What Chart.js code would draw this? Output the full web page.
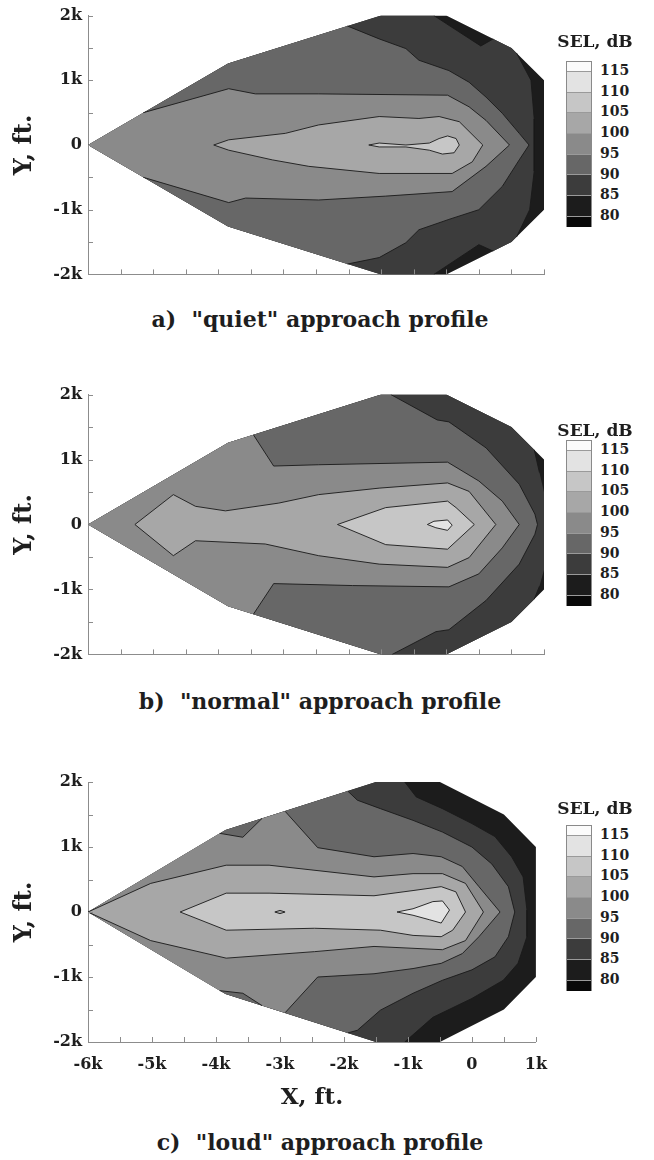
<!DOCTYPE html>
<html>
<head>
<meta charset="utf-8">
<script src="https://cdn.jsdelivr.net/npm/chart.js@4.4.1/dist/chart.umd.min.js"></script>
<style>
  body { margin:0; background:#fff; width:654px; height:1160px; position:relative; overflow:hidden;
         font-family:'DejaVu Serif', serif; font-weight:bold; color:#1e1e1e; }
  canvas { position:absolute; left:0; }
  .caption { position:absolute; left:0; width:640px; text-align:center; font-size:22px; line-height:26px; }
  .sel { position:absolute; left:545px; width:100px; text-align:center; font-size:17px; line-height:20px; }
  .bar { position:absolute; left:566px; width:26px; height:166px; border:1px solid #8a8a8a; box-sizing:border-box; }
  .bar div { box-sizing:border-box; border-top:1px solid #9a9a9a; }
  .bar div:first-child { border-top:none; }
  .lvl { position:absolute; left:600px; font-size:14px; line-height:16px; }
</style>
</head>
<body>
<canvas id="quiet" width="560" height="290" style="top:0px"></canvas>
<canvas id="normal" width="560" height="291" style="top:379px"></canvas>
<canvas id="loud" width="560" height="346" style="top:766px"></canvas>

<div class="caption" style="top:306px">a)&nbsp; "quiet" approach profile</div>
<div class="caption" style="top:688px">b)&nbsp; "normal" approach profile</div>
<div class="caption" style="top:1129px">c)&nbsp; "loud" approach profile</div>

<script>
/* ── DATA (x, y in thousands of ft) ── */
const levels = [80, 85, 90, 95, 100, 105, 110, 115];

// measured area, same for all three profiles
const domain = [[-6,0],[-3.85,1.26],[-1.5,2],[-0.5,2],[0.5,1.5],[1,1],[1,-1],[0.5,-1.5],[-0.5,-2],[-1.5,-2],[-3.85,-1.26]];

// a) quiet: regions at or above each level
const quiet85  = [[-6,0],[-3.85,1.26],[-1.5,2],[-0.69,2],[0.03,1.53],[0.22,1.64],[0.5,1.5],[0.58,1.42],[0.8,1.0],[0.85,0.4],[0.85,-0.4],[0.78,-1.0],[0.58,-1.42],[0.5,-1.5],[0.22,-1.64],[0,-1.54],[-0.69,-2],[-1.5,-2],[-3.85,-1.26]];
const quiet90  = [[-2.02,1.84],[-1.53,1.64],[-1.12,1.49],[-0.92,1.31],[-0.46,1.15],[-0.15,0.97],[0.11,0.74],[0.36,0.49],[0.62,0.18],[0.77,0],[0.62,-0.23],[0.36,-0.64],[0,-1.0],[-0.46,-1.15],[-0.92,-1.31],[-1.12,-1.51],[-1.53,-1.74],[-2.02,-1.84],[-3.85,-1.26],[-6,0],[-3.85,1.26]];
const quiet95  = [[-6,0],[-5.15,0.5],[-3.84,0.87],[-3.43,0.79],[-2.46,0.79],[-0.48,0.77],[-0.15,0.59],[0.11,0.38],[0.47,0],[0.11,-0.33],[-0.41,-0.72],[-1.43,-0.79],[-2.46,-0.85],[-3.58,-0.82],[-3.84,-0.89],[-5.15,-0.5]];
const quiet100 = [[-4.07,0],[-3.84,0.08],[-2.97,0.18],[-2.46,0.31],[-1.53,0.44],[-0.92,0.41],[-0.61,0.44],[-0.3,0.36],[0.06,0],[-0.1,-0.26],[-0.41,-0.44],[-1.53,-0.44],[-2.61,-0.33],[-3.17,-0.23],[-3.84,-0.08]];
const quiet105 = [[-1.69,0],[-1.53,0.03],[-1.12,0],[-0.76,0.03],[-0.61,0.1],[-0.48,0.14],[-0.35,0.1],[-0.3,0],[-0.38,-0.12],[-0.56,-0.14],[-0.76,-0.08],[-1.12,-0.03],[-1.53,-0.03]];

// b) normal
const normal85  = [[-6,0],[-3.85,1.26],[-1.5,2],[-0.5,2],[0.5,1.5],[0.85,1.15],[0.93,0.8],[1,0.5],[1,-0.7],[0.93,-0.95],[0.85,-1.15],[0.5,-1.5],[-0.5,-2],[-1.5,-2],[-3.85,-1.26]];
const normal90  = [[-1.35,2],[-0.64,1.61],[-0.46,1.58],[0.11,1.18],[0.62,0.62],[0.86,0.16],[0.9,0],[0.86,-0.15],[0.62,-0.61],[0.11,-1.17],[-0.46,-1.62],[-0.66,-1.65],[-1.33,-2],[-1.5,-2],[-3.85,-1.26],[-6,0],[-3.85,1.26],[-1.5,2]];
const normal95  = [[-3.46,1.38],[-3.15,0.9],[-2.46,0.92],[-0.48,0.96],[0,0.67],[0.36,0.36],[0.62,0],[0.36,-0.36],[0,-0.76],[-0.46,-0.96],[-1.94,-0.94],[-3.15,-0.91],[-3.46,-1.38],[-3.85,-1.26],[-6,0],[-3.85,1.26]];
const normal100 = [[-5.28,0],[-4.69,0.46],[-4.35,0.28],[-3.89,0.21],[-3.07,0.33],[-2.46,0.46],[-1.53,0.56],[-0.48,0.64],[-0.15,0.51],[0.26,0],[-0.15,-0.51],[-0.48,-0.66],[-1.53,-0.61],[-2.46,-0.48],[-3.28,-0.3],[-4.35,-0.25],[-4.69,-0.48]];
const normal105 = [[-2.17,0],[-1.43,0.26],[-0.48,0.36],[-0.35,0.26],[-0.07,0],[-0.48,-0.38],[-1.43,-0.31]];
const normal110 = [[-0.79,0],[-0.69,0.05],[-0.48,0.07],[-0.41,-0.01],[-0.48,-0.09],[-0.66,-0.05]];

// c) loud
const loud85  = [[-6,0],[-3.85,1.26],[-1.5,2],[-1.05,2],[-0.87,1.77],[-0.46,1.59],[0,1.36],[0.36,1.16],[0.62,0.85],[0.8,0.54],[0.86,0.03],[0.86,-0.38],[0.72,-0.79],[0.49,-1.05],[0,-1.33],[-0.61,-1.62],[-1.05,-2],[-1.5,-2],[-3.85,-1.26]];
const loud90  = [[-1.94,1.86],[-1.79,1.72],[-1.43,1.59],[-0.92,1.41],[-0.46,1.23],[0,1.0],[0.31,0.74],[0.57,0.39],[0.67,0],[0.57,-0.38],[0.36,-0.69],[0,-0.89],[-0.46,-1.05],[-0.92,-1.25],[-1.43,-1.51],[-1.79,-1.82],[-1.94,-1.86],[-3.85,-1.26],[-6,0],[-3.85,1.26]];
const loud95  = [[-6,0],[-3.94,1.21],[-3.58,1.15],[-3.28,1.44],[-2.92,1.55],[-2.41,0.99],[-1.53,0.85],[-0.92,0.9],[-0.48,0.85],[-0.15,0.7],[0.11,0.39],[0.44,0],[0.11,-0.38],[-0.15,-0.64],[-0.48,-0.79],[-0.92,-0.87],[-1.53,-0.95],[-2.41,-1.0],[-2.92,-1.55],[-3.28,-1.44],[-3.58,-1.25],[-3.94,-1.21]];
const loud100 = [[-6,0],[-5.02,0.44],[-3.84,0.72],[-3.17,0.72],[-1.53,0.54],[-0.92,0.59],[-0.46,0.59],[-0.1,0.44],[0.18,0],[-0.1,-0.44],[-0.46,-0.58],[-1.53,-0.53],[-2.46,-0.61],[-3.84,-0.71],[-5.02,-0.44]];
const loud105 = [[-4.56,0],[-3.84,0.29],[-3.17,0.29],[-1.53,0.25],[-0.92,0.33],[-0.48,0.39],[-0.25,0.31],[-0.1,0],[-0.3,-0.28],[-0.48,-0.38],[-0.92,-0.36],[-1.43,-0.28],[-2.46,-0.25],[-3.84,-0.28]];
const loudDip = [[-3.08,0],[-3,0.025],[-2.92,0],[-3,-0.025]];   // small 100-105 island
const loud110 = [[-1.17,0],[-0.92,0.05],[-0.61,0.16],[-0.46,0.17],[-0.35,0.03],[-0.48,-0.17],[-0.66,-0.12],[-0.92,-0.05]];

/* ── STYLE ── */
// band colours: below 80, 80-85, ..., above 115
const shades     = ['#080808','#1c1c1c','#3c3c3c','#676767','#8a8a8a','#a7a7a7','#c6c6c6','#e3e3e3','#fbfbfb'];
const lineColor  = 'rgba(25,25,25,0.9)';
const axisColor  = '#8c8c8c';
const textColor  = '#1e1e1e';
const shadeFor   = lvl => shades[levels.indexOf(lvl) + 1];

Chart.defaults.font.family = "'DejaVu Serif', serif";
Chart.defaults.font.weight = 'bold';

// contour strokes that run along the edge of the measured area are not drawn
function distToSeg(p, a, b) {
  const dx = b[0] - a[0], dy = b[1] - a[1];
  let t = ((p[0] - a[0]) * dx + (p[1] - a[1]) * dy) / (dx * dx + dy * dy);
  t = Math.max(0, Math.min(1, t));
  return Math.hypot(p[0] - a[0] - t * dx, p[1] - a[1] - t * dy);
}
function onDomainEdge(p0, p1) {
  const m = [(p0.x + p1.x) / 2, (p0.y + p1.y) / 2];
  return domain.some((a, i) => distToSeg(m, a, domain[(i + 1) % domain.length]) < 0.035);
}

const kLabel = v => Number.isInteger(v) ? (v === 0 ? '0' : v + 'k') : '';
const closed = poly => poly.concat([poly[0]]).map(([x, y]) => ({ x, y }));

const inwardTicks = {
  id: 'inwardTicks',
  afterDraw(chart) {
    const { ctx, chartArea: area, scales: { x, y } } = chart;
    ctx.save();
    ctx.strokeStyle = axisColor;
    ctx.lineWidth = 1;
    ctx.beginPath();
    x.ticks.forEach(t => {
      const px = Math.round(x.getPixelForValue(t.value)) + 0.5;
      ctx.moveTo(px, area.bottom); ctx.lineTo(px, area.bottom - 5);
    });
    y.ticks.forEach(t => {
      const py = Math.round(y.getPixelForValue(t.value)) + 0.5;
      ctx.moveTo(area.left, py); ctx.lineTo(area.left + 5, py);
    });
    ctx.stroke();
    ctx.restore();
  }
};

function drawPanel(id, contours, opts) {
  // filled bands first (painted low to high), contour lines on top
  const fills = contours.map(([lvl, poly], k) => ({
    data: closed(poly),
    backgroundColor: shadeFor(lvl),
    borderWidth: 0,
    fill: 'shape',
    pointRadius: 0,
    tension: 0,
    order: 100 - k
  }));
  const lines = contours.slice(1).map(([lvl, poly]) => ({
    data: closed(poly),
    borderColor: lineColor,
    borderWidth: 1,
    fill: false,
    pointRadius: 0,
    tension: 0,
    order: 0,
    segment: { borderColor: c => onDomainEdge(c.p0.parsed, c.p1.parsed) ? 'rgba(0,0,0,0)' : undefined }
  }));

  new Chart(document.getElementById(id), {
    type: 'line',
    data: { datasets: fills.concat(lines) },
    options: {
      responsive: false,
      animation: false,
      events: [],
      layout: { padding: { top: opts.padTop, right: 16, bottom: 0, left: 0 } },
      plugins: { legend: { display: false }, tooltip: { enabled: false } },
      scales: {
        x: {
          type: 'linear', min: -6, max: 1,
          grid: { display: false, drawTicks: false },
          border: { color: axisColor, width: 1 },
          ticks: { stepSize: 0.5, autoSkip: false, maxRotation: 0, display: opts.xLabels,
                   padding: 13, color: textColor, font: { size: 16 }, callback: kLabel },
          title: { display: opts.xLabels, text: 'X, ft.', color: textColor,
                   font: { size: 23 }, padding: { top: 0, bottom: 0 } },
          afterFit: s => { s.height = opts.xHeight; }
        },
        y: {
          type: 'linear', min: -2, max: 2,
          grid: { display: false, drawTicks: false },
          border: { color: axisColor, width: 1 },
          ticks: { stepSize: 0.5, autoSkip: false, padding: 6, color: textColor,
                   font: { size: 16 }, callback: kLabel },
          title: { display: true, text: 'Y, ft.', color: textColor,
                   font: { size: 24 }, padding: { top: 10, bottom: 0 } },
          afterFit: s => { s.width = 88; }
        }
      }
    },
    plugins: [inwardTicks]
  });
}

function drawLegend(titleCenter, barTop) {
  const title = document.createElement('div');
  title.className = 'sel';
  title.style.top = (titleCenter - 10) + 'px';
  title.textContent = 'SEL, dB';
  document.body.appendChild(title);

  const bar = document.createElement('div');
  bar.className = 'bar';
  bar.style.top = barTop + 'px';
  const heights = [9, 20.7, 20.7, 20.7, 20.7, 20.7, 20.7, 20.7, 11];
  shades.slice().reverse().forEach((c, i) => {
    const box = document.createElement('div');
    box.style.height = heights[i] + 'px';
    box.style.background = c;
    bar.appendChild(box);
  });
  document.body.appendChild(bar);

  levels.slice().reverse().forEach((lvl, i) => {
    const lab = document.createElement('div');
    lab.className = 'lvl';
    lab.style.top = (barTop + 9 + i * 20.7 - 8) + 'px';
    lab.textContent = lvl;
    document.body.appendChild(lab);
  });
}

drawPanel('quiet', [[80, domain], [85, quiet85], [90, quiet90], [95, quiet95], [100, quiet100], [105, quiet105]],
          { padTop: 15, xHeight: 15, xLabels: false });
drawPanel('normal', [[80, domain], [85, normal85], [90, normal90], [95, normal95], [100, normal100], [105, normal105], [110, normal110]],
          { padTop: 15, xHeight: 15, xLabels: false });
drawPanel('loud', [[80, domain], [85, loud85], [90, loud90], [95, loud95], [100, loud100], [105, loud105], [100, loudDip], [110, loud110]],
          { padTop: 16, xHeight: 70, xLabels: true });

drawLegend(41, 61);
drawLegend(430, 440);
drawLegend(808, 825);
</script>
</body>
</html>
